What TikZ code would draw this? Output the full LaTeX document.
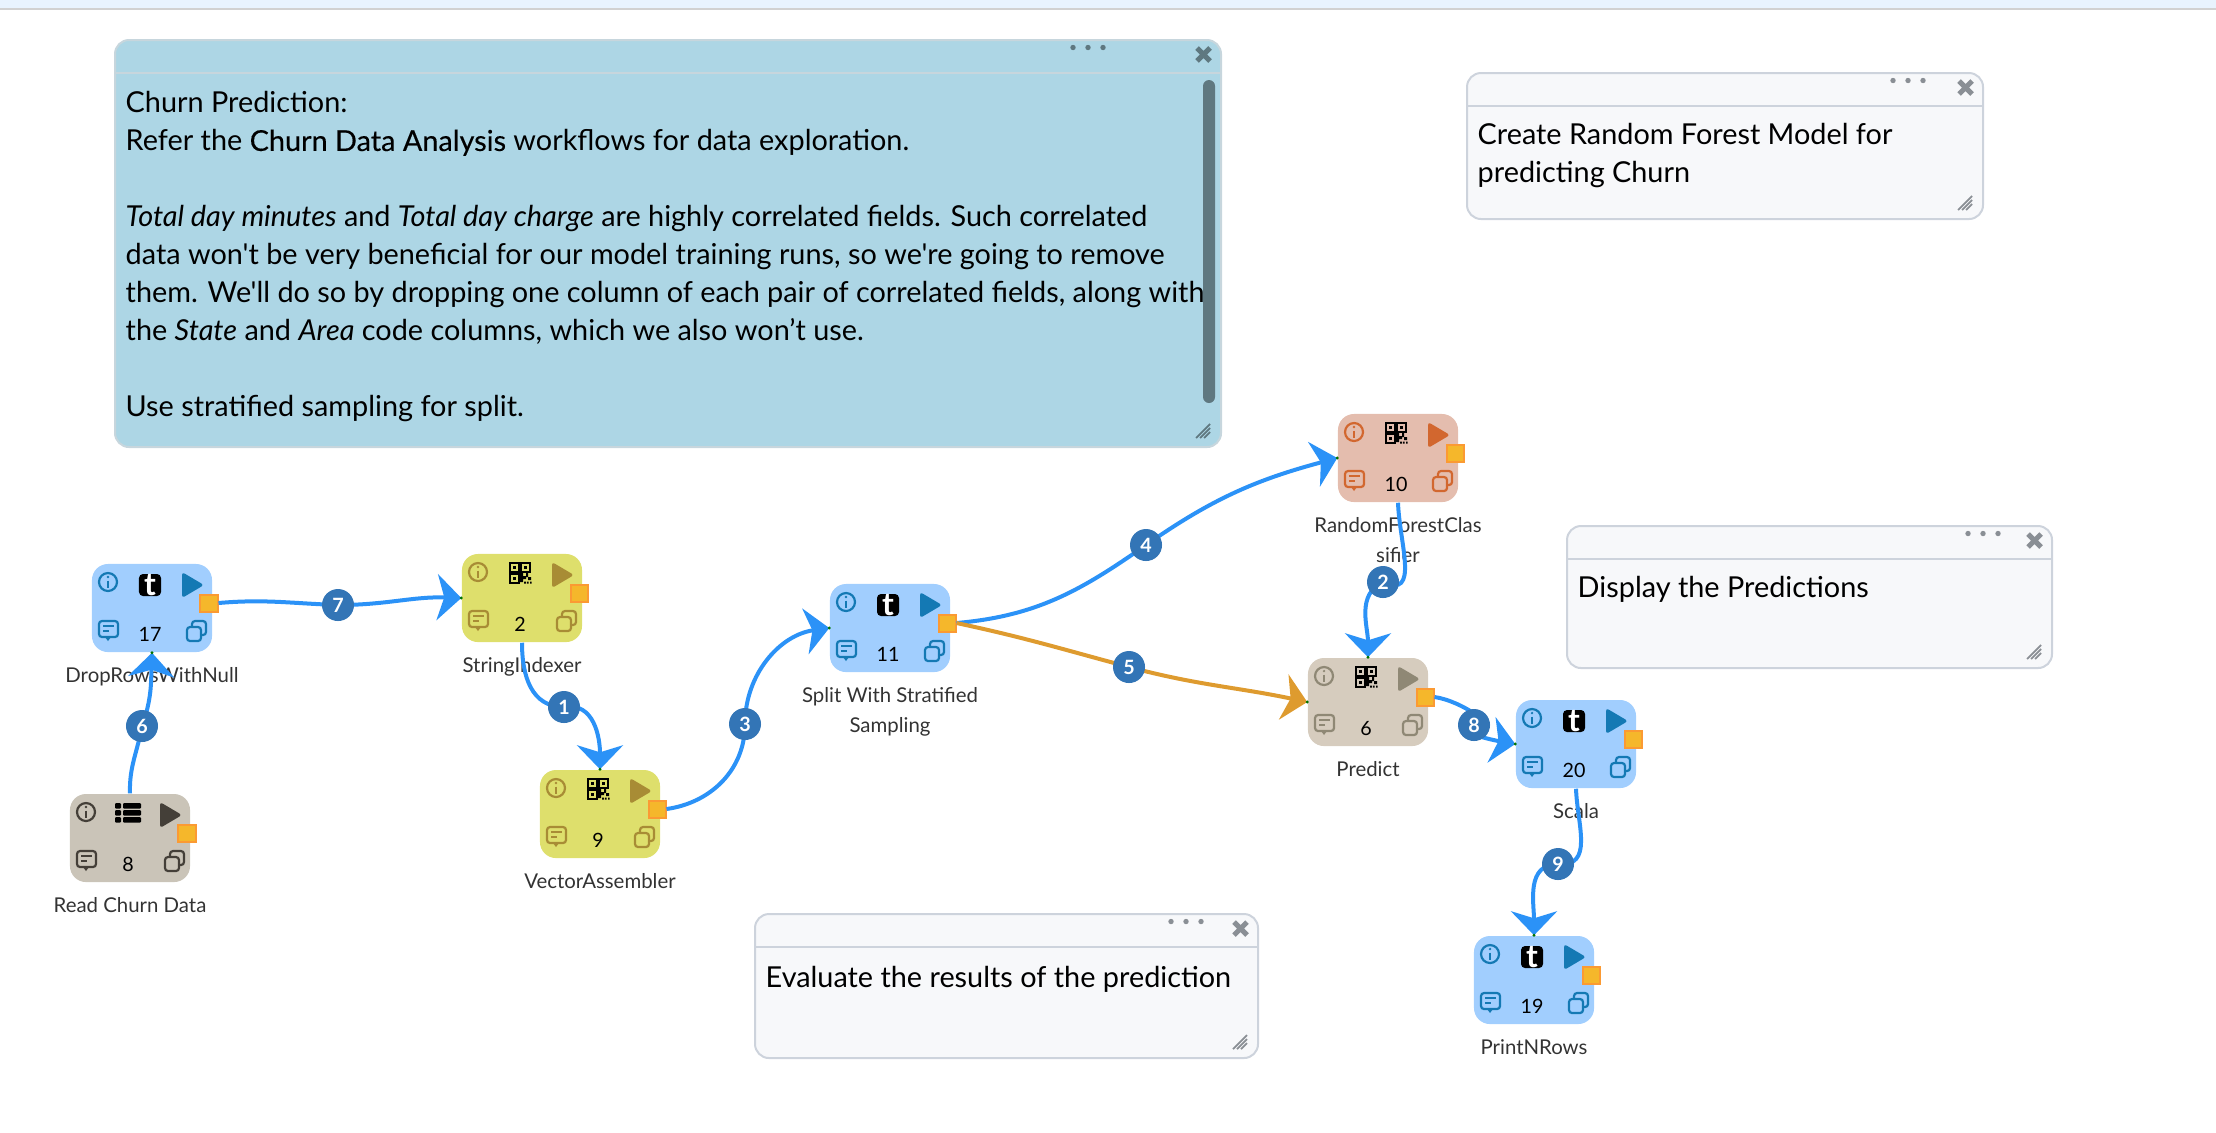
\documentclass[tikz,border=0pt]{standalone}
\usepackage{fontspec}
\usepackage{amsmath}
\usepackage{tikz}
\usetikzlibrary{shapes,fit,arrows.meta,calc}
\newfontfamily\wffont{Lato}
\newfontfamily\wfmedium[FakeBold=0.25]{Lato}

\definecolor{flowblue}{HTML}{2B92F7}
\definecolor{floworange}{HTML}{DE9B2F}
\definecolor{badgeblue}{HTML}{3375B6}
\definecolor{toolblue}{HTML}{A1CEFE}
\definecolor{toolblueink}{HTML}{1479B4}
\definecolor{readtan}{HTML}{CAC4B8}
\definecolor{readink}{HTML}{443F38}
\definecolor{indexyellow}{HTML}{DEDF6C}
\definecolor{indexink}{HTML}{A88C35}
\definecolor{forestred}{HTML}{E4BDAE}
\definecolor{forestink}{HTML}{D2672F}
\definecolor{predtan}{HTML}{D6CCBE}
\definecolor{predink}{HTML}{8F8875}
\definecolor{notegray}{HTML}{F7F8FA}
\definecolor{noteline}{HTML}{CDD3DC}
\definecolor{noteink}{HTML}{8A8F95}
\definecolor{noteblue}{HTML}{ADD6E5}
\definecolor{noteblueline}{HTML}{C7D6DD}
\definecolor{notebluelink}{HTML}{5F7880}
\definecolor{portfill}{HTML}{F5B72B}
\definecolor{portline}{HTML}{FB9A33}
\definecolor{stripfill}{HTML}{E8F3FE}

\tikzset{
    cardbox/.style={rounded corners=.16cm, minimum width=1.2cm, minimum height=.88cm, inner sep=0pt},
    portbox/.style={fill=portfill, draw=portline, line width=.02cm, minimum size=.17cm, inner sep=0pt},
    cardlabel/.style={font=\wffont\fontsize{5.8pt}{8.5pt}\selectfont, text=black!80, align=center, inner sep=0pt},
    cardnum/.style={font=\wffont\fontsize{5.6pt}{7pt}\selectfont, inner sep=0pt},
    iconline/.style={line width=.022cm, rounded corners=.03cm},
    flowline/.style={flowblue, line width=.04cm, -{Stealth[length=.24cm, width=.46cm, inset=.07cm]}},
    badge/.style={circle, fill=badgeblue, text=white, minimum size=.32cm, inner sep=0pt, font=\wffont\bfseries\fontsize{5.6pt}{7pt}\selectfont},
    noteframe/.style={rounded corners=.14cm, line width=.02cm, inner sep=0pt},
    notetext/.style={font=\wffont\fontsize{8.2pt}{10.8pt}\selectfont, align=left, inner sep=0pt, anchor=north west},
}

% icons inside a card
\newcommand{\tglyph}[1]{
    \node[fill=black, text=white, rounded corners=.04cm, minimum size=.22cm, inner sep=0pt, font=\wffont\bfseries\fontsize{9pt}{9pt}\selectfont] (#1glyph) at (-2,-23) {t};
}
\newcommand{\qrglyph}[1]{
    \coordinate (#1glyph) at (-2,-25);
    \foreach \fx/\fy in {-12/-35, -1/-35, -12/-24} {
        \draw[black, line width=.018cm] (\fx,\fy) rectangle +(9,9);
        \fill[black] (\fx+3,\fy+3) rectangle +(3,3);
    }
    \fill[black] (-2,-25) rectangle +(3,9) (-2,-22) rectangle +(6,3) (4,-25) rectangle +(2,4) (6,-21) rectangle +(3,3);
    \fill[black] (2,-16.5) rectangle +(2,2) (5,-16.5) rectangle +(1.5,2) (8,-16.5) rectangle +(1.5,2);
}
\newcommand{\listglyph}[1]{
    \coordinate (#1glyph) at (-2,-23);
    \foreach \fy in {-35,-28,-21} {
        \fill[black, rounded corners=.01cm] (-15,\fy) rectangle +(6,5.5);
        \fill[black, rounded corners=.01cm] (-7,\fy) rectangle +(18,5.5);
    }
}

% card: name, x, y, fill, ink, glyph, number, label
\newcommand{\workcard}[8]{
    \begin{scope}[shift={(#2,#3)}]
        \node[cardbox, fill=#4] (#1) at (0,0) {};
        \draw[iconline, #5] (-44,-26) circle[radius=9];
        \fill[#5] (-44,-31) circle[radius=1.3];
        \draw[#5, line width=.022cm] (-44,-27.5) -- (-44,-20);
        #6{#1}
        \fill[#5, rounded corners=.03cm] (30,-36) -- (52,-23) -- (30,-10) -- cycle;
        \draw[iconline, #5] (-53,13) rectangle (-34,29);
        \fill[#5] (-47,29) -- (-44,33) -- (-41,29) -- cycle;
        \draw[#5, line width=.018cm] (-49,18) -- (-38,18) (-49,23) -- (-43,23);
        \draw[iconline, #5] (35,19) rectangle (49,33);
        \draw[iconline, #5] (40,19) -- (40,13) -- (54,13) -- (54,27) -- (49,27);
        \node[portbox] (#1port) at (57,-5) {};
        \node[cardnum] (#1num) at (-2,26) {#7};
        \node[cardlabel, anchor=north] (#1label) at (0,59) {#8};
    \end{scope}
}

% note: name, corner, corner, fill, line, ink, dots offset
\newcommand{\notecard}[7]{
    \node[noteframe, fill=#4, draw=#5, fit={(#2)(#3)}] (#1) {};
    \draw[#5, line width=.02cm] (#1.north west) +(0,34) -- ($(#1.north east)+(0,34)$);
    \foreach \dx in {-15,0,15} {
        \fill[#6] (#1.north east) ++(#7,8.5) ++(\dx,0) circle[radius=2.7];
    }
    \draw[#6, line width=.05cm] (#1.north east) +(-25,9) -- +(-12,22) +(-25,22) -- +(-12,9);
    \foreach \gx in {0,4,8} {
        \draw[#6, line width=.018cm] (#1.south east) +(-26+\gx,-10) -- +(-12,-24+\gx);
    }
}

\begin{document}
\begin{tikzpicture}[x=.01cm, y=-.01cm]
    \useasboundingbox (0,0) rectangle (2216,1132);

    % Top strip
    \fill[stripfill] (0,0) rectangle (2216,8);
    \fill[black!18] (0,8) rectangle (2216,10);

    % Notes
    \notecard{intronote}{115,40}{1221,447}{noteblue}{noteblueline}{notebluelink}{-134}
    \fill[notebluelink, rounded corners=.06cm] (1203,80) rectangle (1215,403);
    \node[notetext] (introtext) at (125,91) {Churn Prediction:\\
        Refer the {\wfmedium Churn Data Analysis} workflows for data exploration.\\[10.8pt]
        \textit{Total day minutes} and \textit{Total day charge} are highly correlated fields. Such correlated\\
        data won't be very beneficial for our model training runs, so we're going to remove\\
        them. We'll do so by dropping one column of each pair of correlated fields, along with\\
        the \textit{State} and \textit{Area} code columns, which we also won’t use.\\[10.8pt]
        Use stratified sampling for split.};

    \notecard{forestnote}{1467,73}{1983,219}{notegray}{noteline}{noteink}{-76}
    \node[notetext] (foresttext) at (1477,123) {Create Random Forest Model for\\predicting Churn};

    \notecard{displaynote}{1567,526}{2052,668}{notegray}{noteline}{noteink}{-70}
    \node[notetext] (displaytext) at (1577,576) {Display the Predictions};

    \notecard{evalnote}{755,914}{1258,1058}{notegray}{noteline}{noteink}{-73}
    \node[notetext] (evaltext) at (765,966) {Evaluate the results of the prediction};

    % Cards
    \workcard{drop}{152}{608}{toolblue}{toolblueink}{\tglyph}{17}{DropRowsWithNull}
    \workcard{read}{130}{838}{readtan}{readink}{\listglyph}{8}{Read Churn Data}
    \workcard{indexer}{522}{598}{indexyellow}{indexink}{\qrglyph}{2}{StringIndexer}
    \workcard{assembler}{600}{814}{indexyellow}{indexink}{\qrglyph}{9}{VectorAssembler}
    \workcard{split}{890}{628}{toolblue}{toolblueink}{\tglyph}{11}{Split With Stratified\\Sampling}
    \workcard{forest}{1398}{458}{forestred}{forestink}{\qrglyph}{10}{RandomForestClas\\sifier}
    \workcard{predict}{1368}{702}{predtan}{predink}{\qrglyph}{6}{Predict}
    \workcard{scala}{1576}{744}{toolblue}{toolblueink}{\tglyph}{20}{Scala}
    \workcard{print}{1534}{980}{toolblue}{toolblueink}{\tglyph}{19}{PrintNRows}

    % Badge positions
    \coordinate (m1) at (564,707);
    \coordinate (m2) at (1383,582);
    \coordinate (m3) at (745,724);
    \coordinate (m4) at (1146,545);
    \coordinate (m5) at (1129,667);
    \coordinate (m6) at (142,726);
    \coordinate (m7) at (338,605);
    \coordinate (m8) at (1474,725);
    \coordinate (m9) at (1558,864);

    % Connectors
    \draw[flowline] (read.north) to[out=92, in=-100] (m6) node[badge] (b6) {6} to[out=70, in=-92] (drop.south);
    \draw[flowline] (dropport.east) to[out=5, in=178] (m7) node[badge] (b7) {7} to[out=0, in=178] (indexer.west);
    \draw[flowline] (indexer.south) to[out=-90, in=180, looseness=1.1] (m1) node[badge] (b1) {1} to[out=10, in=90, looseness=1.1] (assembler.north);
    \draw[flowline] (assemblerport.east) to[out=8, in=-90] (m3) node[badge] (b3) {3} to[out=90, in=188] (split.west);
    \draw[flowline] (splitport.east) to[out=5, in=215] (m4) node[badge] (b4) {4} to[out=35, in=195] (forest.west);
    \draw[flowline, floworange] (splitport.east) to[out=-12, in=165] (m5) node[badge] (b5) {5} to[out=-15, in=168] (predict.west);
    \draw[flowline] (forest.south) to[out=-88, in=-25, looseness=1.3] (m2) node[badge] (b2) {2} to[out=205, in=90] (predict.north);
    \draw[flowline] (predictport.east) to[out=-8, in=-10, looseness=1.5] (m8) node[badge] (b8) {8} to[out=190, in=170, looseness=1.5] (scala.west);
    \draw[flowline] (scala.south) to[out=-88, in=-5, looseness=1.2] (m9) node[badge] (b9) {9} to[out=180, in=90, looseness=1.1] (print.north);

    % Small dots at the arrow tips
    \foreach \tip in {drop.south, indexer.west, assembler.north, split.west, forest.west, predict.west, predict.north, scala.west, print.north} {
        \fill[green!45!black] (\tip) circle[radius=1.6];
    }
\end{tikzpicture}
\end{document}
